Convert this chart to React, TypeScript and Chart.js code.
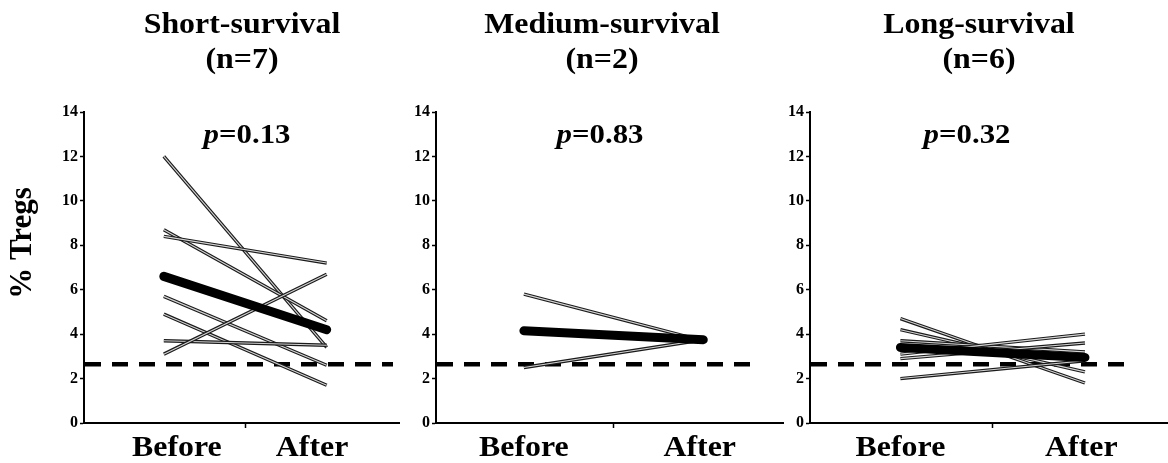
import React, { useEffect, useRef } from 'react';
import { Chart, registerables } from 'chart.js';

Chart.register(...registerables);

// ---------- data ----------
const CATEGORIES = ['Before', 'After'];
const Y_TICK_STEP = 2;
const Y_MIN = 0;
const Y_MAX = 14;
const THRESHOLD = 2.65;
const Y_LABEL = '% Tregs';

const GROUP_TITLES = ['Short-survival', 'Medium-survival', 'Long-survival'];
const GROUP_N = ['(n=7)', '(n=2)', '(n=6)'];
const P_VALUES = ['0.13', '0.83', '0.32'];

const SHORT_BEFORE = [12.0, 8.7, 8.4, 5.7, 4.9, 3.7, 3.1];
const SHORT_AFTER = [3.4, 4.6, 7.2, 2.6, 1.7, 3.5, 6.7];
const SHORT_MEAN = [6.6, 4.2];

const MEDIUM_BEFORE = [5.8, 2.5];
const MEDIUM_AFTER = [3.7, 3.75];
const MEDIUM_MEAN = [4.15, 3.75];

const LONG_BEFORE = [4.7, 4.2, 3.7, 3.1, 2.9, 2.0];
const LONG_AFTER = [1.8, 2.3, 3.2, 4.0, 3.6, 2.8];
const LONG_MEAN = [3.4, 2.95];

// ---------- styling / layout ----------
const FONT = "'Liberation Serif', 'Times New Roman', serif";
const SX = 1.1; // horizontal stretch of text, as in the picture
const H = 463;
const X_MIN = -0.49;
const X_MAX = 1.45;

type Panel = {
  left: number;
  width: number;
  yWidth: number;
  before: number[];
  after: number[];
  mean: number[];
  idx: number;
  titleDx: number;
  pX: number;
  dashEnd: number;
  yLabel: boolean;
  labelX: number[];
};

const PANELS: Panel[] = [
  { left: 0, width: 400, yWidth: 84, before: SHORT_BEFORE, after: SHORT_AFTER, mean: SHORT_MEAN, idx: 0, titleDx: 0, pX: 163, dashEnd: 7, yLabel: true, labelX: [0.08, 0.91] },
  { left: 400, width: 384, yWidth: 36, before: MEDIUM_BEFORE, after: MEDIUM_AFTER, mean: MEDIUM_MEAN, idx: 1, titleDx: -8, pX: 164, dashEnd: 30, yLabel: false, labelX: [0, 0.98] },
  { left: 784, width: 384, yWidth: 26, before: LONG_BEFORE, after: LONG_AFTER, mean: LONG_MEAN, idx: 2, titleDx: -10, pX: 157, dashEnd: 43, yLabel: false, labelX: [0, 0.98] },
];

function stretchedText(ctx: CanvasRenderingContext2D, text: string, cx: number, y: number, font: string) {
  ctx.save();
  ctx.font = font;
  ctx.translate(cx, y);
  ctx.scale(SX, 1);
  ctx.textAlign = 'center';
  ctx.textBaseline = 'alphabetic';
  ctx.fillStyle = '#000';
  ctx.fillText(text, 0, 0);
  ctx.restore();
}

function makePlugin(panel: Panel) {
  return {
    id: 'panelDecor' + panel.idx,
    beforeDatasetsDraw(chart: any) {
      const { ctx, chartArea, scales } = chart;
      const yy = scales.y.getPixelForValue(THRESHOLD);
      ctx.save();
      ctx.strokeStyle = '#000';
      ctx.lineWidth = 4.5;
      ctx.setLineDash([16, 11]);
      ctx.beginPath();
      ctx.moveTo(chartArea.left + 1, yy);
      ctx.lineTo(chartArea.right - panel.dashEnd, yy);
      ctx.stroke();
      ctx.restore();
    },
    afterDraw(chart: any) {
      const { ctx, chartArea, scales } = chart;
      const cx = (chartArea.left + chartArea.right) / 2 + panel.titleDx;
      // titles
      stretchedText(ctx, GROUP_TITLES[panel.idx], cx, 33, `bold 29px ${FONT}`);
      stretchedText(ctx, GROUP_N[panel.idx], cx, 68, `bold 29px ${FONT}`);
      // p value with italic p
      ctx.save();
      const pSize = 28;
      ctx.font = `italic bold ${pSize}px ${FONT}`;
      const w1 = ctx.measureText('p').width;
      ctx.font = `bold ${pSize}px ${FONT}`;
      const rest = '=' + P_VALUES[panel.idx];
      const w2 = ctx.measureText(rest).width;
      ctx.translate(chartArea.left + panel.pX, 143);
      ctx.scale(SX, 1);
      ctx.fillStyle = '#000';
      ctx.textAlign = 'left';
      ctx.textBaseline = 'alphabetic';
      const sx = -(w1 + w2) / 2;
      ctx.font = `italic bold ${pSize}px ${FONT}`;
      ctx.fillText('p', sx, 0);
      ctx.font = `bold ${pSize}px ${FONT}`;
      ctx.fillText(rest, sx + w1, 0);
      ctx.restore();
      // category labels
      CATEGORIES.forEach((c, i) => {
        const x = scales.x.getPixelForValue(panel.labelX[i]);
        stretchedText(ctx, c, x, chartArea.bottom + 33, `bold 29px ${FONT}`);
      });
      // y axis label
      if (panel.yLabel) {
        ctx.save();
        ctx.translate(23, 243);
        ctx.rotate(-Math.PI / 2);
        ctx.font = `bold 31px ${FONT}`;
        ctx.textAlign = 'center';
        ctx.textBaseline = 'middle';
        ctx.fillStyle = '#000';
        ctx.fillText(Y_LABEL, 0, 0);
        ctx.restore();
      }
    },
  };
}

function PanelChart({ panel }: { panel: Panel }) {
  const ref = useRef<HTMLCanvasElement | null>(null);
  useEffect(() => {
    if (!ref.current) return;
    const datasets: any[] = [];
    panel.before.forEach((b, i) => {
      const pair = [
        { x: 0, y: b },
        { x: 1, y: panel.after[i] },
      ];
      datasets.push({
        data: pair,
        borderColor: '#1a1a1a',
        borderWidth: 3.4,
        pointRadius: 0,
        order: 100 - 2 * i,
      });
      datasets.push({
        data: pair,
        borderColor: '#d4d4d4',
        borderWidth: 1.1,
        pointRadius: 0,
        order: 99 - 2 * i,
      });
    });
    datasets.push({
      data: [
        { x: 0, y: panel.mean[0] },
        { x: 1, y: panel.mean[1] },
      ],
      borderColor: '#000',
      borderWidth: 9,
      borderCapStyle: 'round',
      pointRadius: 0,
      order: 0,
    });
    const chart = new Chart(ref.current, {
      type: 'line',
      data: { datasets },
      options: {
        responsive: false,
        animation: false,
        layout: { padding: { top: 112, bottom: 0, left: 0, right: 0 } },
        plugins: {
          legend: { display: false },
          tooltip: { enabled: false },
          title: { display: false },
        },
        elements: { line: { tension: 0 }, point: { radius: 0 } },
        scales: {
          x: {
            type: 'linear',
            min: X_MIN,
            max: X_MAX,
            afterBuildTicks: (s: any) => {
              s.ticks = [{ value: 0.5 }];
            },
            grid: {
              drawOnChartArea: false,
              drawTicks: true,
              tickLength: 5,
              tickWidth: 1.5,
              tickColor: '#000',
            },
            border: { display: true, color: '#000', width: 2 },
            ticks: { display: false },
            afterFit: (s: any) => {
              s.height = 40;
            },
          },
          y: {
            min: Y_MIN,
            max: Y_MAX,
            ticks: {
              stepSize: Y_TICK_STEP,
              color: '#000',
              padding: 2,
              font: { family: FONT, weight: 'bold', size: 16 },
            },
            grid: { drawOnChartArea: false, tickLength: 4, tickColor: '#000', tickWidth: 1.5 },
            border: { display: true, color: '#000', width: 2 },
            afterFit: (s: any) => {
              s.width = panel.yWidth;
            },
          },
        },
      } as any,
      plugins: [makePlugin(panel)],
    });
    return () => chart.destroy();
  }, [panel]);
  return (
    <div style={{ position: 'absolute', left: panel.left, top: 0, width: panel.width, height: H }}>
      <canvas ref={ref} width={panel.width} height={H} style={{ display: 'block' }} />
    </div>
  );
}

export default function App() {
  return (
    <div style={{ position: 'fixed', left: 0, top: 0, width: 1168, height: H, background: '#fff' }}>
      {PANELS.map((p) => (
        <PanelChart key={p.idx} panel={p} />
      ))}
    </div>
  );
}
